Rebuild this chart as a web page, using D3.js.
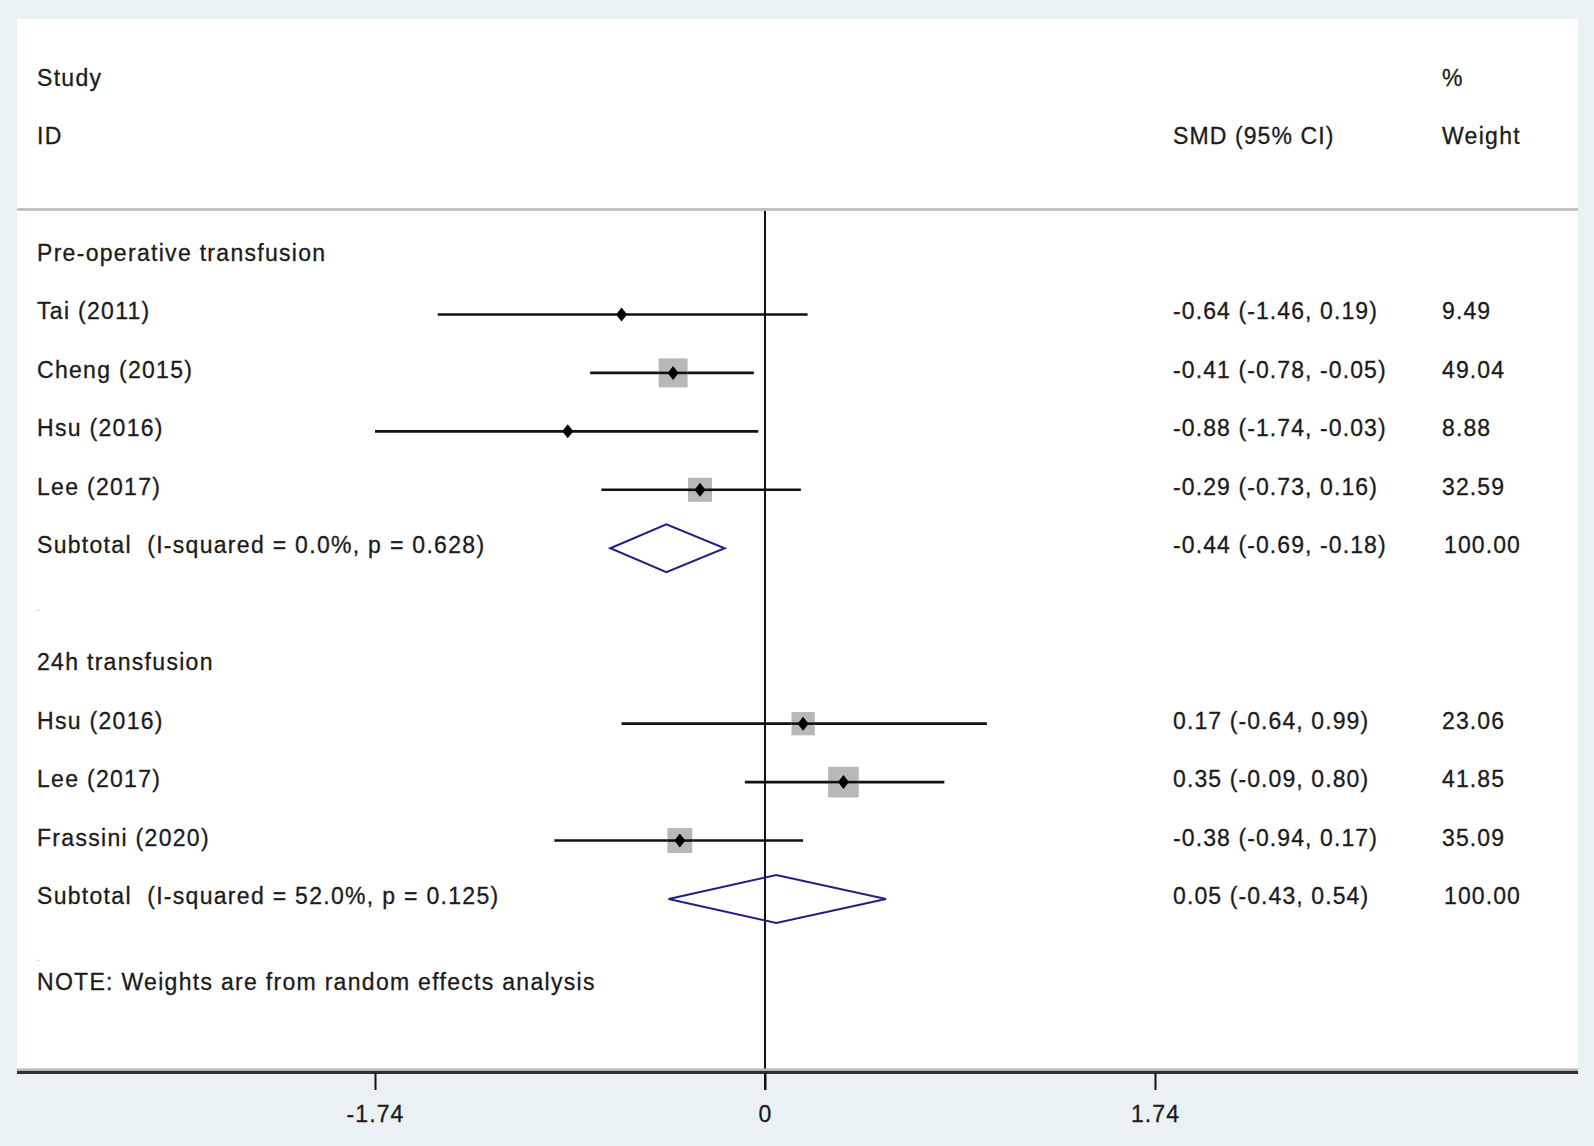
<!DOCTYPE html>
<html>
<head>
<meta charset="utf-8">
<script src="https://cdn.jsdelivr.net/npm/d3@7"></script>
<style>
  html, body { margin: 0; padding: 0; background: #e9f1f4; }
  svg { display: block; }
  text { font-family: "Liberation Sans", Arial, sans-serif; }
</style>
</head>
<body>
<svg id="chart" width="1594" height="1146"></svg>
<script>
// ---------------- data ----------------
const groupNames = ["Pre-operative transfusion", "24h transfusion"];
const studyIds = ["Tai (2011)", "Cheng (2015)", "Hsu (2016)", "Lee (2017)",
                  "Hsu (2016)", "Lee (2017)", "Frassini (2020)"];
const studyGroup = [0, 0, 0, 0, 1, 1, 1];
const smd    = [-0.64, -0.41, -0.88, -0.29, 0.17, 0.35, -0.38];
const ciLow  = [-1.46, -0.78, -1.74, -0.73, -0.64, -0.09, -0.94];
const ciHigh = [ 0.19, -0.05, -0.03,  0.16,  0.99,  0.80,  0.17];
const weightPct = [9.49, 49.04, 8.88, 32.59, 23.06, 41.85, 35.09];
// weights used for box areas
const boxWeight = [1.3, 23.2, 1.3, 15.9, 15.0, 26.0, 17.2];
const subtotalLabels = ["Subtotal  (I-squared = 0.0%, p = 0.628)",
                        "Subtotal  (I-squared = 52.0%, p = 0.125)"];
const subSmd    = [-0.44, 0.05];
const subLow    = [-0.69, -0.43];
const subHigh   = [-0.18, 0.54];
const subWeight = [100.00, 100.00];
const xTicks = [-1.74, 0, 1.74];
const xTickLabels = ["-1.74", "0", "1.74"];
const noteText = "NOTE: Weights are from random effects analysis";
const headers = { study: "Study", id: "ID", pct: "%", est: "SMD (95% CI)", weight: "Weight" };

// ---------------- layout ----------------
const W = 1594, H = 1146;
const panel = { x0: 17, x1: 1578, y0: 19, y1: 1071 };
const colLabel = 37, colEst = 1173, colWeight = 1442;
const fontSize = 23, letterSp = 1.3, numLetterSp = 1.1;
const textColor = "#1b1b1b";

const fmt = d3.formatLocale({ decimal: ".", thousands: ",", grouping: [3], currency: ["", ""], minus: "-" }).format(".2f");

// row index -> pixel
const y = d3.scaleLinear().domain([0, 11]).range([256, 899]);
const x = d3.scaleLinear().domain([-1.74, 1.74]).range([375, 1155]);
const box = d3.scaleSqrt().domain([0, 26.0]).range([0, 30.7]);

// build row list
const rows = [];
let idx = 0;
groupNames.forEach((g, gi) => {
  rows.push({ kind: "group", label: g, idx: idx++ });
  studyIds.forEach((s, i) => {
    if (studyGroup[i] === gi) {
      rows.push({ kind: "study", label: s, est: smd[i], lo: ciLow[i], hi: ciHigh[i],
                  w: weightPct[i], bw: boxWeight[i], idx: idx++ });
    }
  });
  rows.push({ kind: "sub", label: subtotalLabels[gi], est: subSmd[gi], lo: subLow[gi],
              hi: subHigh[gi], w: subWeight[gi], idx: idx++ });
  rows.push({ kind: "blank", label: ".", idx: idx++ });
});
const noteIdx = idx - 0.53;

const svg = d3.select("#chart");

// background + panel
svg.append("rect").attr("width", W).attr("height", H).attr("fill", "#e9f1f4");
svg.append("rect").attr("x", panel.x0).attr("y", panel.y0)
  .attr("width", panel.x1 - panel.x0).attr("height", panel.y1 - panel.y0).attr("fill", "#ffffff");

// header separator
svg.append("line").attr("x1", panel.x0).attr("x2", panel.x1)
  .attr("y1", 209.5).attr("y2", 209.5).attr("stroke", "#c2c2c2").attr("stroke-width", 3);

function addText(txt, tx, ty, opts = {}) {
  return svg.append("text")
    .attr("x", tx).attr("y", ty)
    .attr("font-size", opts.size || fontSize)
    .attr("letter-spacing", opts.ls !== undefined ? opts.ls : letterSp)
    .attr("fill", opts.fill || textColor)
    .attr("stroke", opts.noStroke ? "none" : (opts.fill || textColor))
    .attr("stroke-width", 0.3)
    .attr("text-anchor", opts.anchor || "start")
    .style("white-space", "pre")
    .text(txt);
}

// headers
const base = 5; // baseline offset relative to row centre
addText(headers.study, colLabel, y(-3) + base);
addText(headers.id, colLabel, y(-2) + base);
addText(headers.pct, colWeight, y(-3) + base);
addText(headers.est, colEst, y(-2) + base, { ls: numLetterSp });
addText(headers.weight, colWeight, y(-2) + base);

// zero line (also serves as tick)
svg.append("line").attr("x1", x(0)).attr("x2", x(0))
  .attr("y1", 211).attr("y2", 1090).attr("stroke", "#111").attr("stroke-width", 2);

// CI lines
const studies = rows.filter(r => r.kind === "study");
svg.selectAll(".ci").data(studies).join("line")
  .attr("x1", d => x(d.lo)).attr("x2", d => x(d.hi))
  .attr("y1", d => y(d.idx)).attr("y2", d => y(d.idx))
  .attr("stroke", "#111").attr("stroke-width", 2.6);

// weight boxes
svg.selectAll(".box").data(studies).join("rect")
  .attr("x", d => x(d.est) - box(d.bw) / 2)
  .attr("y", d => y(d.idx) - box(d.bw) / 2)
  .attr("width", d => box(d.bw)).attr("height", d => box(d.bw))
  .attr("fill", "#b8b8b8");

// redraw line over box
svg.selectAll(".ci2").data(studies).join("line")
  .attr("x1", d => x(d.est) - box(d.bw) / 2).attr("x2", d => x(d.est) + box(d.bw) / 2)
  .attr("y1", d => y(d.idx)).attr("y2", d => y(d.idx))
  .attr("stroke", "#111").attr("stroke-width", 2.6);

// point markers (small diamonds)
svg.selectAll(".pt").data(studies).join("path")
  .attr("d", d => {
    const cx = x(d.est), cy = y(d.idx);
    return `M${cx - 5.5},${cy} L${cx},${cy - 7} L${cx + 5.5},${cy} L${cx},${cy + 7} Z`;
  })
  .attr("fill", "#000");

// subtotal diamonds
const subs = rows.filter(r => r.kind === "sub");
svg.selectAll(".dia").data(subs).join("path")
  .attr("d", d => {
    const cy = y(d.idx);
    return `M${x(d.lo)},${cy} L${x(d.est)},${cy - 24} L${x(d.hi)},${cy} L${x(d.est)},${cy + 24} Z`;
  })
  .attr("fill", "none").attr("stroke", "#1f1f86").attr("stroke-width", 2);

// left labels and right columns
rows.forEach(r => {
  if (r.kind === "blank") {
    addText(r.label, colLabel, y(r.idx) + 4, { size: 10, ls: 0, fill: "#b9a890", noStroke: true });
  } else {
    addText(r.label, colLabel, y(r.idx) + base);
  }
  if (r.kind === "study" || r.kind === "sub") {
    const dy = y(r.idx) + base;
    addText(`${fmt(r.est)} (${fmt(r.lo)}, ${fmt(r.hi)})`, colEst, dy, { ls: numLetterSp });
    addText(fmt(r.w), colWeight + (r.kind === "sub" ? 2 : 0), dy, { ls: numLetterSp });
  }
});

// note
addText(noteText, colLabel, y(noteIdx) + base);

// x axis line
svg.append("rect").attr("x", panel.x0).attr("y", 1068.5).attr("width", panel.x1 - panel.x0)
  .attr("height", 2.5).attr("fill", "#b5b5b5");
svg.append("rect").attr("x", panel.x0).attr("y", 1071).attr("width", panel.x1 - panel.x0)
  .attr("height", 3).attr("fill", "#2e2e2e");

const axis = d3.axisBottom(x).tickValues(xTicks)
  .tickFormat((d, i) => xTickLabels[i]).tickSize(17).tickPadding(16);
const gAxis = svg.append("g").attr("transform", "translate(0,1073)").call(axis);
gAxis.select(".domain").remove();
gAxis.selectAll(".tick line").attr("stroke", "#111").attr("stroke-width", 2);
gAxis.selectAll(".tick text")
  .attr("font-family", "'Liberation Sans', Arial, sans-serif")
  .attr("font-size", fontSize).attr("letter-spacing", numLetterSp)
  .attr("fill", textColor).attr("stroke", textColor).attr("stroke-width", 0.3)
  .attr("dy", "0.71em");
</script>
</body>
</html>
